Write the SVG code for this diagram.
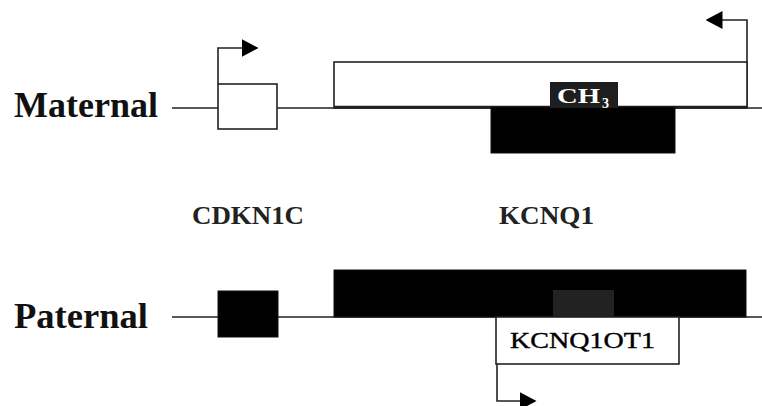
<svg xmlns="http://www.w3.org/2000/svg" width="762" height="406" viewBox="0 0 762 406">
<style>
.lbl{font-family:"Liberation Serif","Times New Roman",serif;font-weight:bold;fill:#111}
.gene{font-family:"Liberation Serif","Times New Roman",serif;font-weight:bold;fill:#222}
.line{stroke:#222;stroke-width:1.6;fill:none}
.wbox{fill:#fff;stroke:#222;stroke-width:1.6}
.bbox{fill:#000;stroke:#111;stroke-width:1}
</style>
<defs>
<marker id="ah" viewBox="0 0 17 18" refX="0.5" refY="9" markerWidth="17" markerHeight="18" markerUnits="userSpaceOnUse" orient="auto">
<path d="M0,0 L17,9 L0,18 Z" fill="#000"/>
</marker>
</defs>
<rect width="762" height="406" fill="#fff"/>
<g id="maternal-label"><text class="lbl" x="14" y="117" font-size="35" textLength="144" lengthAdjust="spacingAndGlyphs">Maternal</text></g>
<g id="paternal-label"><text class="lbl" x="14" y="328" font-size="35" textLength="134" lengthAdjust="spacingAndGlyphs">Paternal</text></g>
<g id="cdkn1c-label"><text class="gene" x="192" y="224" font-size="26" textLength="112" lengthAdjust="spacingAndGlyphs">CDKN1C</text></g>
<g id="kcnq1-label"><text class="gene" x="499" y="224" font-size="26" textLength="95" lengthAdjust="spacingAndGlyphs">KCNQ1</text></g>
<g id="connectors">
<line class="line" x1="172" y1="108" x2="762" y2="108"/>
<line class="line" x1="172" y1="317" x2="762" y2="317"/>
<path class="line" d="M218,84 V48 H242" marker-end="url(#ah)"/>
<path class="line" d="M747,108 V20 H722" marker-end="url(#ah)"/>
<path class="line" d="M497,364 V401 H520" marker-end="url(#ah)"/>
</g>
<g id="maternal-cdkn1c"><rect class="wbox" x="218" y="84" width="59" height="45"/></g>
<g id="maternal-kcnq1ot1"><rect class="wbox" x="334" y="62" width="413" height="46"/><line x1="334" y1="107" x2="747" y2="107" stroke="#222" stroke-width="2.5"/></g>
<g id="maternal-kcnq1"><rect class="bbox" x="491" y="107" width="184" height="46"/></g>
<g id="ch3"><rect x="550" y="82" width="68" height="26" fill="#1e1e1e"/>
<text x="557" y="103" font-family="'Liberation Serif','Times New Roman',serif" font-weight="bold" font-size="21" fill="#fff" textLength="43" lengthAdjust="spacingAndGlyphs">CH</text>
<text x="602" y="108" font-family="'Liberation Serif','Times New Roman',serif" font-weight="bold" font-size="14" fill="#fff">3</text></g>
<g id="paternal-cdkn1c"><rect class="bbox" x="218" y="291" width="60" height="46"/></g>
<g id="paternal-kcnq1"><rect class="bbox" x="334" y="270" width="412" height="47"/><rect x="553" y="290" width="61" height="30" fill="#222"/></g>
<g id="paternal-kcnq1ot1"><rect class="wbox" x="496" y="317" width="183" height="47"/>
<text x="510" y="348" font-family="'Liberation Serif','Times New Roman',serif" font-size="24" fill="#000" stroke="#000" stroke-width="0.4" textLength="145" lengthAdjust="spacingAndGlyphs">KCNQ1OT1</text></g>
</svg>
